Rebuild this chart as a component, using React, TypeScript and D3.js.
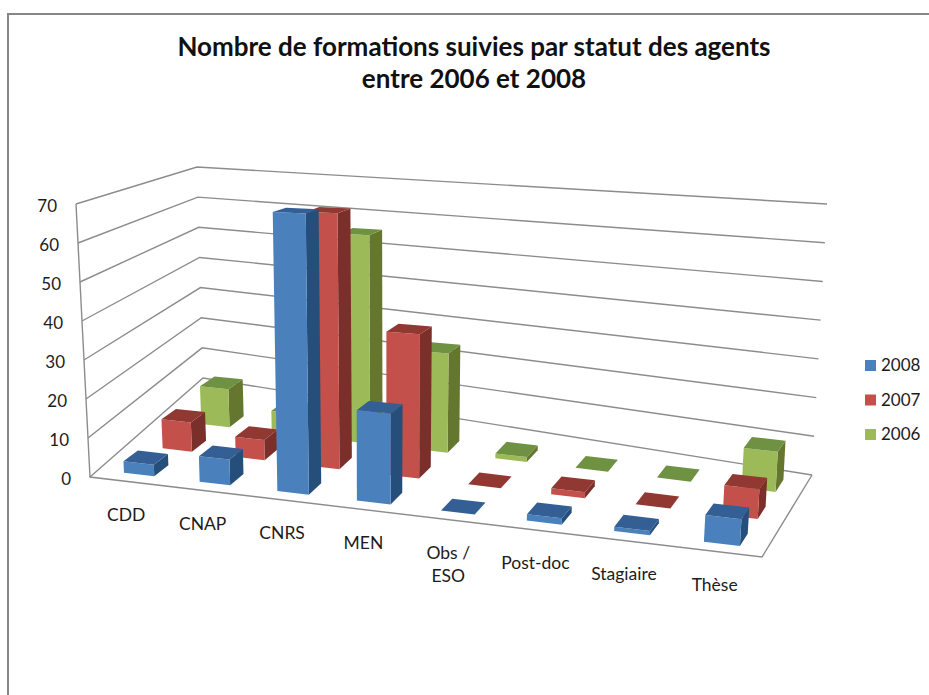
import { useEffect, useRef } from "react";
import * as d3 from "d3";

const categories = ["CDD", "CNAP", "CNRS", "MEN", "Obs /\nESO", "Post-doc", "Stagiaire", "Thèse"];
const years = ["2008", "2007", "2006"];
const values2008 = [3, 6.5, 69.5, 22, 0, 1.5, 1, 6];
const values2007 = [8, 5.4, 67, 37, 0, 1.5, 0, 7];
const values2006 = [11, 6, 58, 27, 1.3, 0, 0, 10];
const valueTicks = [0, 10, 20, 30, 40, 50, 60, 70];

const series = [values2008, values2007, values2006];
const faceColors = [
  { front: "#4a81bd", top: "#335f94", side: "#254e7b" },
  { front: "#c4504b", top: "#913833", side: "#7b2f2a" },
  { front: "#9cbb58", top: "#6f9142", side: "#65772f" },
];
const font = "Lato, 'Open Sans', sans-serif";
const textColor = "#1c1c1c";

// corners of the 3D box on screen: [u, v] -> floor and ceiling
const floor = { fl: [90, 477], fr: [762, 557], bl: [203, 378], br: [812, 475] };
const ceil = { fl: [76, 204], fr: [782, 237], bl: [197, 167], br: [827, 204] };

const project = (u: number, v: number, w: number): [number, number] => {
  const pick = (c: typeof floor, i: number) =>
    (1 - v) * ((1 - u) * c.fl[i] + u * c.fr[i]) + v * ((1 - u) * c.bl[i] + u * c.br[i]);
  return [
    pick(floor, 0) * (1 - w) + pick(ceil, 0) * w,
    pick(floor, 1) * (1 - w) + pick(ceil, 1) * w,
  ];
};

const App = () => {
  const ref = useRef<SVGSVGElement>(null);

  useEffect(() => {
    const width = 929;
    const height = 695;
    const svg = d3.select(ref.current).attr("width", width).attr("height", height);
    svg.selectAll("*").remove();

    const wScale = d3.scaleLinear().domain([0, 70]).range([0, 1]);
    const uBand = d3
      .scaleBand()
      .domain(categories)
      .range([0, 1])
      .paddingInner(0.6)
      .paddingOuter(0.3);
    // categories spread a little wider towards the right of the floor
    const uWarp = d3
      .scaleLinear()
      .domain([0, 0.2, 0.4, 0.6, 0.8, 1])
      .range([0, 0.182, 0.372, 0.574, 0.784, 1]);
    const vBand = d3
      .scaleBand()
      .domain(years)
      .range([0, 0.74])
      .paddingInner(0.55)
      .paddingOuter(0.286);
    // back rows drift to the right, mostly on the left side of the chart
    const rowShear = d3
      .scaleLinear()
      .domain([0, 0.15, 0.3, 0.5, 0.75, 1])
      .range([48, 38, 22, 16, 6, 2]);

    const polygon = d3.line().curve(d3.curveLinearClosed);
    const open = d3.line();

    // chart frame
    svg
      .append("path")
      .attr("d", open([[8, height], [8, 14], [width, 14]]))
      .attr("fill", "none")
      .attr("stroke", "#868686")
      .attr("stroke-width", 2);

    // gridlines on both walls
    const grid = svg
      .append("g")
      .attr("fill", "none")
      .attr("stroke", "#8c8c8c")
      .attr("stroke-width", 1.4);
    grid
      .selectAll("path")
      .data(valueTicks)
      .join("path")
      .attr("d", (d) =>
        open([
          project(0, 0, wScale(d)),
          project(0, 1, wScale(d)),
          project(1, 1, wScale(d)),
        ])
      );
    grid
      .append("path")
      .attr("d", open([project(0, 0, 1), project(0, 0, 0), project(1, 0, 0), project(1, 1, 0)]));

    // bars, back row first so the front rows cover it
    const bars = svg.append("g");
    d3.range(years.length - 1, -1, -1).forEach((s) => {
      const colors = faceColors[s];
      categories.forEach((cat, i) => {
        const value = series[s][i];
        const u0 = uWarp(uBand(cat)!);
        const u1 = uWarp(uBand(cat)! + uBand.bandwidth());
        const v0 = vBand(years[s])!;
        const v1 = v0 + vBand.bandwidth();
        // rows sit deeper on the floor towards the right
        const pt = (u: number, v: number, w: number): [number, number] => {
          const [x, y] = project(u, v * (1 + 0.35 * u), w);
          return [x + rowShear(u) * (v0 + 0.4 * (v - v0)), y];
        };
        const w = wScale(value);
        bars
          .append("path")
          .attr("fill", colors.side)
          .attr("d", polygon([pt(u1, v0, 0), pt(u1, v1, 0), pt(u1, v1, w), pt(u1, v0, w)]));
        bars
          .append("path")
          .attr("fill", colors.front)
          .attr("d", polygon([pt(u0, v0, 0), pt(u1, v0, 0), pt(u1, v0, w), pt(u0, v0, w)]));
        bars
          .append("path")
          .attr("fill", colors.top)
          .attr("d", polygon([pt(u0, v0, w), pt(u1, v0, w), pt(u1, v1, w), pt(u0, v1, w)]));
      });
    });

    // value axis labels
    svg
      .append("g")
      .attr("font-family", font)
      .attr("font-size", 17)
      .attr("fill", textColor)
      .attr("text-anchor", "end")
      .selectAll("text")
      .data(valueTicks)
      .join("text")
      .attr("x", (d) => project(0, 0, wScale(d))[0] - 19)
      .attr("y", (d) => project(0, 0, wScale(d))[1] + 8)
      .text((d) => d);

    // category labels along the front edge of the floor
    const catLabels = svg
      .append("g")
      .attr("font-family", font)
      .attr("font-size", 17.5)
      .attr("fill", textColor)
      .attr("text-anchor", "middle");
    categories.forEach((cat) => {
      const [x, y] = project(uWarp(uBand(cat)! + uBand.bandwidth() / 2), 0, 0);
      const lines = cat.split("\n");
      const label = catLabels.append("text");
      lines.forEach((line, i) => {
        label
          .append("tspan")
          .attr("x", x - 2)
          .attr("y", y + 39 + i * 23)
          .text(line);
      });
    });

    // legend
    const legend = svg
      .append("g")
      .selectAll("g")
      .data(years)
      .join("g")
      .attr("transform", (_, i) => `translate(865,${360 + i * 34.5})`);
    legend
      .append("rect")
      .attr("width", 11)
      .attr("height", 11)
      .attr("fill", (_, i) => faceColors[i].front);
    legend
      .append("text")
      .attr("x", 16)
      .attr("y", 11)
      .attr("font-family", font)
      .attr("font-size", 17)
      .attr("fill", textColor)
      .text((d) => d);

    // title
    svg
      .append("text")
      .attr("x", 474)
      .attr("y", 56)
      .attr("text-anchor", "middle")
      .attr("font-family", font)
      .attr("font-weight", "bold")
      .attr("font-size", 26)
      .attr("fill", "#111")
      .text("Nombre de formations suivies par statut des agents");
    svg
      .append("text")
      .attr("x", 474)
      .attr("y", 88)
      .attr("text-anchor", "middle")
      .attr("font-family", font)
      .attr("font-weight", "bold")
      .attr("font-size", 26)
      .attr("fill", "#111")
      .text("entre 2006 et 2008");
  }, []);

  return <svg ref={ref} style={{ position: "absolute", left: 0, top: 0, display: "block" }} />;
};

export default App;
